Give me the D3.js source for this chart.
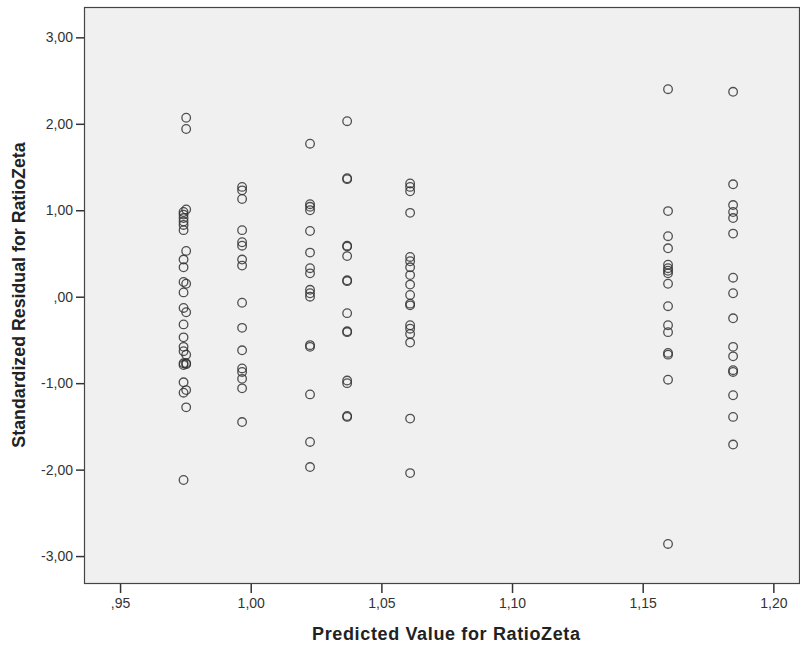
<!DOCTYPE html>
<html>
<head>
<meta charset="utf-8">
<script src="https://cdn.jsdelivr.net/npm/d3@7"></script>
<style>
  body { margin: 0; background: #fff; }
  svg text { font-family: "Liberation Sans", Arial, sans-serif; }
</style>
</head>
<body>
<div id="chart"></div>
<script>
// Configuration
const WIDTH = 800;
const HEIGHT = 646;
const margin = { left: 84, right: 0, top: 7, bottom: 62 };

// Predicted values (x) per group
const predicted = [0.9743, 0.9753, 0.9967, 1.0227, 1.0369, 1.0610, 1.1597, 1.1846];

// Standardized residuals for each predicted value
const residuals = [
    [0.98, 0.95, 0.91, 0.87, 0.83, 0.77, 0.43, 0.34, 0.17, 0.05, -0.13, -0.32, -0.47, -0.58, -0.63, -0.77, -0.79, -0.99, -1.11, -2.12],
    [2.07, 1.94, 1.01, 0.53, 0.15, -0.18, -0.67, -0.77, -0.78, -1.08, -1.28],
    [1.27, 1.23, 1.13, 0.77, 0.63, 0.59, 0.43, 0.36, -0.07, -0.36, -0.62, -0.83, -0.87, -0.95, -1.06, -1.45],
    [1.77, 1.07, 1.04, 1.00, 0.76, 0.51, 0.33, 0.27, 0.08, 0.04, 0.00, -0.56, -0.58, -1.13, -1.68, -1.97],
    [2.03, 1.37, 1.36, 0.59, 0.58, 0.47, 0.19, 0.18, -0.19, -0.40, -0.41, -0.97, -1.00, -1.38, -1.39],
    [1.31, 1.27, 1.22, 0.97, 0.46, 0.41, 0.34, 0.25, 0.14, 0.02, -0.08, -0.10, -0.33, -0.37, -0.43, -0.53, -1.41, -2.04],
    [2.40, 0.99, 0.70, 0.56, 0.37, 0.33, 0.30, 0.27, 0.15, -0.11, -0.33, -0.41, -0.65, -0.67, -0.96, -2.86],
    [2.37, 1.30, 1.06, 0.98, 0.91, 0.73, 0.22, 0.04, -0.25, -0.58, -0.69, -0.85, -0.87, -1.14, -1.39, -1.71]
];

const xTicks = [0.95, 1.00, 1.05, 1.10, 1.15, 1.20];
const yTicks = [3, 2, 1, 0, -1, -2, -3];

const xTitle = "Predicted Value for RatioZeta";
const yTitle = "Standardized Residual for RatioZeta";

// Flatten to points
const points = [];
predicted.forEach((p, i) => {
    residuals[i].forEach(r => points.push({ x: p, y: r }));
});

// SPSS-like number format: comma decimal, no leading zero
function spssFormat(v, digits) {
    let s = Math.abs(v).toFixed(digits).replace(".", ",");
    if (s.startsWith("0,")) s = s.slice(1);
    return (v < 0 ? "-" : "") + s;
}

// Setup SVG
const svg = d3.select("#chart")
    .append("svg")
    .attr("width", WIDTH)
    .attr("height", HEIGHT);

const x = d3.scaleLinear()
    .domain([0.9362, 1.2102])
    .range([margin.left, WIDTH - margin.right]);

const y = d3.scaleLinear()
    .domain([-3.323, 3.351])
    .range([HEIGHT - margin.bottom, margin.top]);

// Plot background
svg.append("rect")
    .attr("x", margin.left)
    .attr("y", margin.top)
    .attr("width", WIDTH - margin.right - margin.left)
    .attr("height", HEIGHT - margin.bottom - margin.top)
    .attr("fill", "#f0f0f0");

// Axes
const xAxis = svg.append("g")
    .attr("transform", `translate(0,${HEIGHT - margin.bottom})`)
    .call(d3.axisBottom(x).tickValues(xTicks).tickSize(9).tickSizeOuter(0).tickPadding(5)
        .tickFormat(d => spssFormat(d, 2)));

const yAxis = svg.append("g")
    .attr("transform", `translate(${margin.left},0)`)
    .call(d3.axisLeft(y).tickValues(yTicks).tickSize(8).tickSizeOuter(0).tickPadding(3)
        .tickFormat(d => spssFormat(d, 2)));

[xAxis, yAxis].forEach(g => {
    g.select(".domain").remove();
    g.selectAll(".tick line").attr("stroke", "#333").attr("stroke-width", 1.5);
    g.selectAll(".tick text").attr("fill", "#333").style("font-size", "14px");
});

// Frame
svg.append("rect")
    .attr("x", margin.left + 0.5)
    .attr("y", margin.top + 0.5)
    .attr("width", WIDTH - margin.right - margin.left - 1)
    .attr("height", HEIGHT - margin.bottom - margin.top - 1)
    .attr("fill", "none")
    .attr("stroke", "#444")
    .attr("stroke-width", 1.2);

// Points
svg.append("g")
    .selectAll("circle")
    .data(points)
    .join("circle")
    .attr("cx", d => x(d.x))
    .attr("cy", d => y(d.y))
    .attr("r", 4.3)
    .attr("fill", "none")
    .attr("stroke", "#333")
    .attr("stroke-opacity", 0.85)
    .attr("stroke-width", 1.3);

// Axis titles
svg.append("text")
    .attr("x", 446)
    .attr("y", 640)
    .attr("text-anchor", "middle")
    .attr("fill", "#222")
    .attr("textLength", 268)
    .attr("lengthAdjust", "spacing")
    .style("font-size", "18px")
    .style("font-weight", "bold")
    .text(xTitle);

svg.append("text")
    .attr("transform", "translate(25,295) rotate(-90)")
    .attr("text-anchor", "middle")
    .attr("fill", "#222")
    .style("font-size", "17.8px")
    .style("font-weight", "bold")
    .text(yTitle);
</script>
</body>
</html>
